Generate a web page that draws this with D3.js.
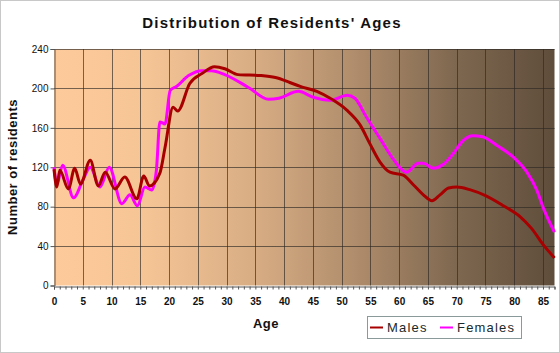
<!DOCTYPE html>
<html>
<head>
<meta charset="utf-8">
<script src="https://cdn.jsdelivr.net/npm/d3@7"></script>
<style>
  body { margin: 0; background: #fff; }
  svg { display: block; font-family: Arial, "Liberation Sans", sans-serif; }
</style>
</head>
<body>
<div id="container"></div>
<script>
/* CONSTANTS AND GLOBALS */
const width = 560,
  height = 353,
  margin = { top: 49, bottom: 67.5, left: 54, right: 5.5 };

/* DATA */
const maleAges = [0, 0.5, 1, 2.5, 3.6, 4.6, 6.3, 7.7, 8.9, 10.6, 12.3, 14.4, 15.6, 16.6, 18.4, 19.3, 20.7, 21.5, 23.6, 25.7, 27.9, 29.7, 32, 36, 38.5, 41, 42.8, 45.7, 48, 50.9, 53.2, 54.9, 56.7, 58.4, 60.7, 62.5, 64.2, 65.7, 67.1, 68.6, 70, 72.4, 75.1, 78.1, 81, 83, 85.1, 87];
const maleValues = [118, 100, 117, 98, 119, 103, 127, 101, 115, 98, 110, 88, 111, 101, 114, 140, 181, 177, 205, 215, 222, 220, 214, 213, 211, 206, 202, 197, 190, 178, 163, 144, 125, 115, 112, 102, 92, 86, 92, 99, 100, 97, 91, 81, 70, 58, 41, 28];

const femaleAges = [0, 0.5, 1.5, 3.4, 5.1, 6.3, 8, 9.6, 11.8, 13.2, 14.5, 15.8, 17, 17.8, 18.4, 19.3, 20.2, 21.3, 23.4, 25.7, 27.4, 29.7, 33.8, 37.3, 39.1, 42.5, 45.1, 48, 51, 52.3, 54.3, 56.7, 59, 61.3, 63.3, 64.2, 65.9, 67.7, 69.4, 71.1, 72.8, 74.5, 77, 79.9, 82.2, 83.9, 85.1, 87];
const femaleValues = [120, 103, 122, 89, 108, 120, 100, 120, 83, 92, 81, 100, 97, 117, 166, 164, 198, 202, 213, 218, 218, 214, 201, 189, 190, 197, 191, 188, 193, 190, 171, 149, 128, 115, 124, 124, 119, 123, 134, 147, 152, 151, 142, 130, 115, 97, 78, 54];

const xTicks = d3.range(0, 86, 5);
const yTicks = [0, 40, 80, 120, 160, 200, 240];
const seriesNames = ["Males", "Females"];
const seriesColors = ["#a80000", "#ff00ff"];

/* SCALES */
const xScale = d3.scaleLinear()
  .domain([0, 87])
  .range([margin.left, width - margin.right]);

const yScale = d3.scaleLinear()
  .domain([0, 240])
  .range([height - margin.bottom, margin.top]);

/* HTML ELEMENTS */
const svg = d3.select("#container")
  .append("svg")
  .attr("width", width)
  .attr("height", height);

// frame
svg.append("rect")
  .attr("x", 0.5).attr("y", 0.5)
  .attr("width", width - 1).attr("height", height - 1)
  .attr("fill", "#fff")
  .attr("stroke", "#c8c8c8");

// plot background gradient
const grad = svg.append("defs").append("linearGradient")
  .attr("id", "bg")
  .attr("x1", "0%").attr("x2", "100%").attr("y1", "0%").attr("y2", "0%");
[["0%", "#fdca9b"], ["18%", "#f6c596"], ["40%", "#d8ad84"], ["60%", "#b08d6c"], ["80%", "#7f6850"], ["100%", "#5f4d3b"]]
  .forEach(s => grad.append("stop").attr("offset", s[0]).attr("stop-color", s[1]));

svg.append("rect")
  .attr("x", xScale(0))
  .attr("y", yScale(240))
  .attr("width", xScale(87) - xScale(0))
  .attr("height", yScale(0) - yScale(240))
  .attr("fill", "url(#bg)");

// grid
svg.append("g")
  .selectAll("line")
  .data(xTicks.slice(1))
  .join("line")
  .attr("x1", d => Math.round(xScale(d)) + 0.5)
  .attr("x2", d => Math.round(xScale(d)) + 0.5)
  .attr("y1", yScale(240))
  .attr("y2", yScale(0))
  .attr("stroke", "rgba(45,40,35,0.65)");

svg.append("g")
  .selectAll("line")
  .data(yTicks.slice(1))
  .join("line")
  .attr("x1", xScale(0))
  .attr("x2", xScale(87))
  .attr("y1", d => Math.round(yScale(d)) + 0.5)
  .attr("y2", d => Math.round(yScale(d)) + 0.5)
  .attr("stroke", "rgba(45,40,35,0.65)");

// axes
const xAxis = d3.axisBottom(xScale)
  .tickValues(d3.range(0, 88, 1))
  .tickSize(3)
  .tickFormat(d => d % 5 === 0 && d <= 85 ? d : "");
const gx = svg.append("g")
  .attr("transform", `translate(0,${Math.round(yScale(0)) + 0.5})`)
  .call(xAxis);
gx.select(".domain").attr("stroke", "#555");
gx.selectAll(".tick line").attr("stroke", "#555");
gx.selectAll(".tick text")
  .attr("y", 11)
  .style("font-size", "10px")
  .style("font-weight", "bold")
  .attr("fill", "#111");

const yAxis = d3.axisLeft(yScale)
  .tickValues(yTicks)
  .tickSize(4)
  .tickPadding(2);
const gy = svg.append("g")
  .attr("transform", `translate(${Math.round(xScale(0)) + 0.5},0)`)
  .call(yAxis);
gy.select(".domain").attr("stroke", "#555");
gy.selectAll(".tick line").attr("stroke", "#555");
gy.selectAll(".tick text")
  .style("font-size", "10px")
  .attr("fill", "#111");

// lines
const lineGen = d3.line()
  .x(d => xScale(d[0]))
  .y(d => yScale(d[1]))
  .curve(d3.curveMonotoneX);

const series = [
  d3.zip(maleAges, maleValues),
  d3.zip(femaleAges, femaleValues)
];

svg.append("g")
  .selectAll("path")
  .data([series[1], series[0]])
  .join("path")
  .attr("d", lineGen)
  .attr("fill", "none")
  .attr("stroke", (d, i) => i === 0 ? seriesColors[1] : seriesColors[0])
  .attr("stroke-width", 3)
  .attr("stroke-linejoin", "round");

// title + labels
svg.append("text")
  .attr("x", 272)
  .attr("y", 28)
  .attr("text-anchor", "middle")
  .style("font-size", "15px")
  .style("font-weight", "bold")
  .style("letter-spacing", "1.2px")
  .attr("fill", "#111")
  .text("Distribution of Residents' Ages");

svg.append("text")
  .attr("transform", "translate(17,167) rotate(-90)")
  .attr("text-anchor", "middle")
  .style("font-size", "13px")
  .style("font-weight", "bold")
  .style("letter-spacing", "0.5px")
  .attr("fill", "#111")
  .text("Number of residents");

svg.append("text")
  .attr("x", 266)
  .attr("y", 328)
  .attr("text-anchor", "middle")
  .style("font-size", "13px")
  .style("font-weight", "bold")
  .style("letter-spacing", "0.5px")
  .attr("fill", "#111")
  .text("Age");

// legend
const legend = svg.append("g");
legend.append("rect")
  .attr("x", 367.5).attr("y", 316.5)
  .attr("width", 154).attr("height", 22)
  .attr("fill", "none")
  .attr("stroke", "#8a9a9a");

const legendX = [370, 440];
seriesNames.forEach((name, i) => {
  legend.append("line")
    .attr("x1", legendX[i]).attr("x2", legendX[i] + 13)
    .attr("y1", 327.5).attr("y2", 327.5)
    .attr("stroke", seriesColors[i])
    .attr("stroke-width", 2);
  legend.append("text")
    .attr("x", legendX[i] + 17)
    .attr("y", 332)
    .style("font-size", "13px")
    .style("letter-spacing", "1.2px")
    .attr("fill", "#1a2a2a")
    .text(name);
});
</script>
</body>
</html>
